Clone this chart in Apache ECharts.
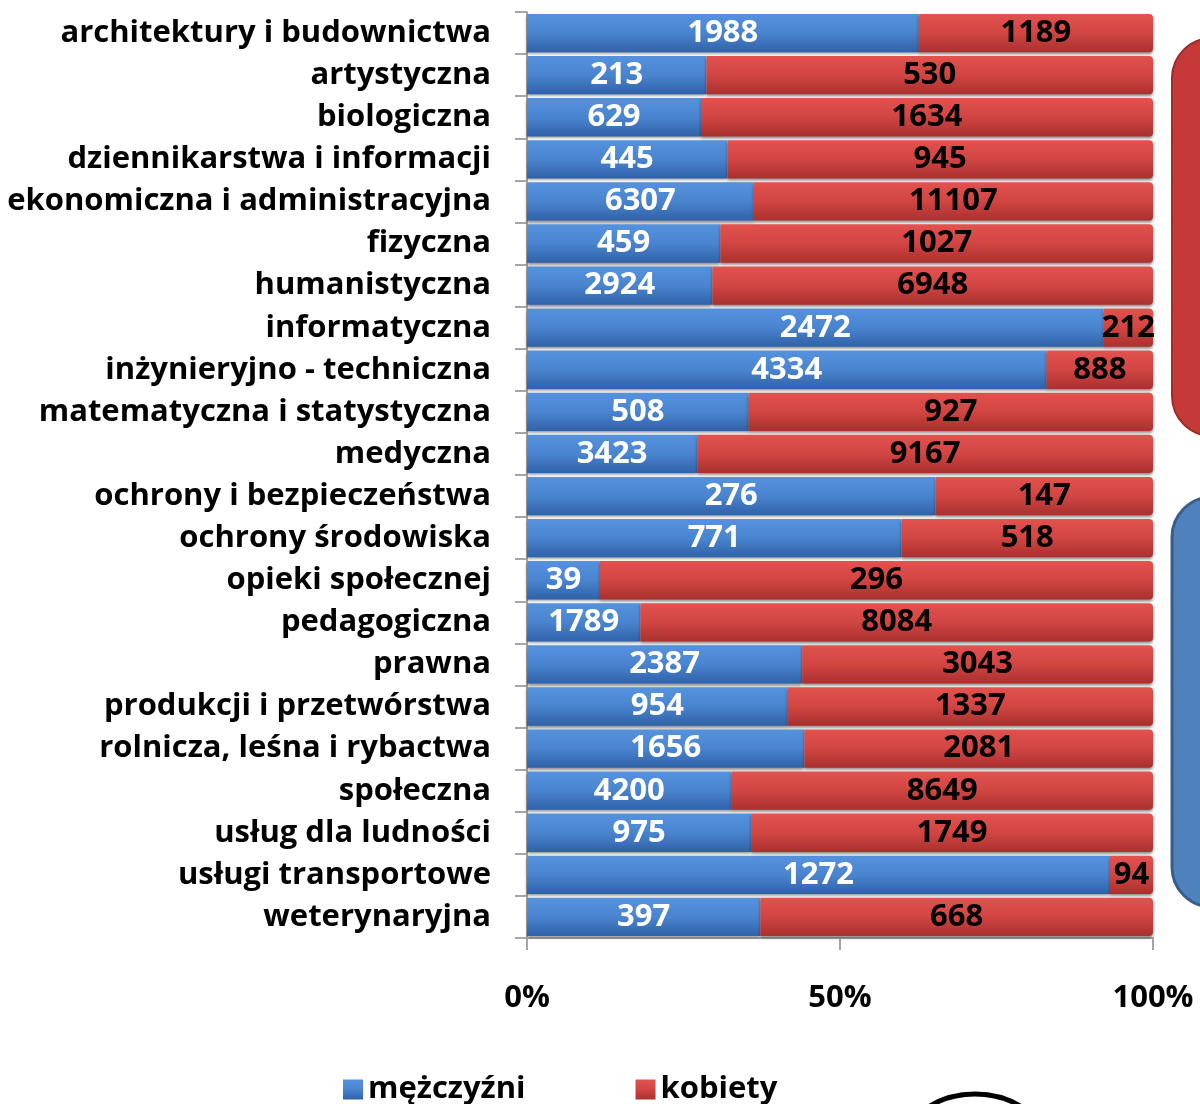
<!DOCTYPE html>
<html>
<head>
<meta charset="utf-8">
<script src="https://cdn.jsdelivr.net/npm/echarts@6/dist/echarts.min.js"></script>
<style>
  html, body { margin: 0; padding: 0; background: #fff; }
  #chart { width: 1200px; height: 1104px; }
</style>
</head>
<body>
<div id="chart"></div>
<script>
var categories = [
    'architektury i budownictwa', 'artystyczna', 'biologiczna', 'dziennikarstwa i informacji',
    'ekonomiczna i administracyjna', 'fizyczna', 'humanistyczna', 'informatyczna',
    'inżynieryjno - techniczna', 'matematyczna i statystyczna', 'medyczna',
    'ochrony i bezpieczeństwa', 'ochrony środowiska', 'opieki społecznej', 'pedagogiczna',
    'prawna', 'produkcji i przetwórstwa', 'rolnicza, leśna i rybactwa', 'społeczna',
    'usług dla ludności', 'usługi transportowe', 'weterynaryjna'
];
var men = [1988, 213, 629, 445, 6307, 459, 2924, 2472, 4334, 508, 3423, 276, 771, 39, 1789, 2387, 954, 1656, 4200, 975, 1272, 397];
var women = [1189, 530, 1634, 945, 11107, 1027, 6948, 212, 888, 927, 9167, 147, 518, 296, 8084, 3043, 1337, 2081, 8649, 1749, 94, 668];
var axisTicks = [0, 50, 100];

var FONT = '"Open Sans"';
var SIZE = 31;

// share of each group in the row, value label keeps the raw count
function shares(arr) {
    return arr.map(function (v, i) {
        return { value: v / (men[i] + women[i]) * 100, raw: v };
    });
}

function grad(top, mid, bottom) {
    return new echarts.graphic.LinearGradient(0, 0, 0, 1, [
        { offset: 0, color: top },
        { offset: 0.5, color: mid },
        { offset: 1, color: bottom }
    ]);
}

var chart = echarts.init(document.getElementById('chart'));

chart.setOption({
    animation: false,
    grid: { left: 527, right: 47, top: 12, bottom: 166 },
    xAxis: {
        type: 'value',
        min: axisTicks[0],
        max: axisTicks[axisTicks.length - 1],
        interval: 50,
        splitLine: { show: false },
        axisLine: { show: true, lineStyle: { color: '#a6a6a6', width: 2 } },
        axisTick: { show: true, length: 12, lineStyle: { color: '#a6a6a6', width: 2 } },
        axisLabel: {
            formatter: '{value}%',
            margin: 45,
            color: '#000',
            fontFamily: FONT,
            fontWeight: 'bold',
            fontSize: SIZE
        }
    },
    yAxis: {
        type: 'category',
        inverse: true,
        data: categories,
        axisLine: { show: true, lineStyle: { color: '#a6a6a6', width: 2 } },
        axisTick: { show: true, inside: false, length: 12, lineStyle: { color: '#a6a6a6', width: 2 } },
        axisLabel: {
            margin: 36,
            padding: [4, 0, 0, 0],
            color: '#000',
            fontFamily: FONT,
            fontWeight: 'bold',
            fontSize: SIZE
        }
    },
    legend: {
        bottom: -6,
        left: 338,
        itemGap: 110,
        itemWidth: 20,
        itemHeight: 20,
        textStyle: { color: '#000', fontFamily: FONT, fontWeight: 'bold', fontSize: SIZE },
        data: [
            { name: 'mężczyźni', icon: 'rect' },
            { name: 'kobiety', icon: 'rect' }
        ]
    },
    graphic: [
        {
            type: 'rect',
            shape: { x: 1172, y: 38, width: 80, height: 398, r: 40 },
            style: { fill: '#c53a38', stroke: '#9e2c2a', lineWidth: 2 },
            z: -1
        },
        {
            type: 'rect',
            shape: { x: 1172, y: 497, width: 80, height: 410, r: 40 },
            style: { fill: '#4f81bd', stroke: '#385d8a', lineWidth: 3 },
            z: -1
        },
        {
            type: 'ellipse',
            shape: { cx: 975, cy: 1160, rx: 78, ry: 66 },
            style: { fill: 'none', stroke: '#000', lineWidth: 5 }
        }
    ],
    series: [
        {
            name: 'mężczyźni',
            type: 'bar',
            stack: 'all',
            barCategoryGap: '9%',
            data: shares(men),
            itemStyle: {
                color: grad('#5592de', '#4a84cf', '#2f62a8'),
                shadowColor: 'rgba(0,0,0,0.45)',
                shadowBlur: 3,
                shadowOffsetY: 2
            },
            label: {
                show: true,
                position: 'inside',
                padding: [4, 0, 0, 0],
                formatter: function (p) { return p.data.raw; },
                color: '#fff',
                fontFamily: FONT,
                fontWeight: 'bold',
                fontSize: SIZE
            }
        },
        {
            name: 'kobiety',
            type: 'bar',
            stack: 'all',
            data: shares(women),
            itemStyle: {
                color: grad('#e2524f', '#d14542', '#a9302e'),
                borderRadius: [0, 4, 4, 0],
                shadowColor: 'rgba(0,0,0,0.45)',
                shadowBlur: 3,
                shadowOffsetY: 2
            },
            label: {
                show: true,
                position: 'inside',
                padding: [4, 0, 0, 0],
                formatter: function (p) { return p.data.raw; },
                color: '#000',
                fontFamily: FONT,
                fontWeight: 'bold',
                fontSize: SIZE
            }
        }
    ]
});
</script>
</body>
</html>
